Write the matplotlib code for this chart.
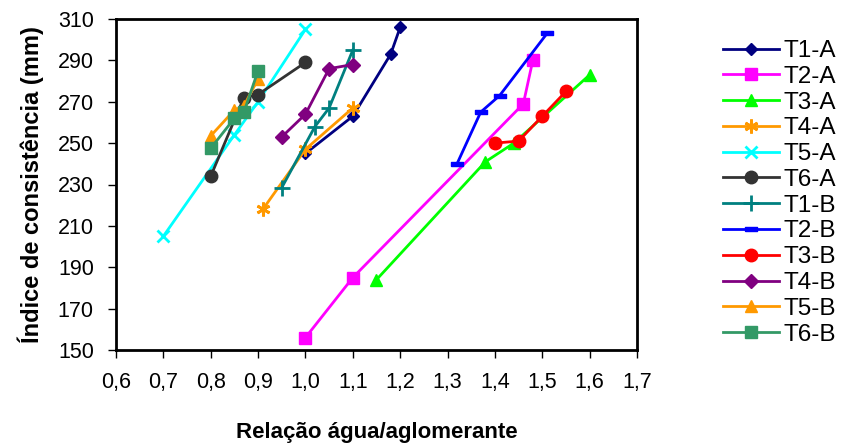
import matplotlib
matplotlib.use("Agg")
import matplotlib.pyplot as plt
from matplotlib.ticker import FuncFormatter, FixedLocator

plt.rcParams['font.family'] = ['Liberation Sans', 'DejaVu Sans']

labels = ["T1-A", "T2-A", "T3-A", "T4-A", "T5-A", "T6-A",
          "T1-B", "T2-B", "T3-B", "T4-B", "T5-B", "T6-B"]

x_T1A = [1.00, 1.10, 1.18, 1.20]
y_T1A = [245, 263, 293, 306]
x_T2A = [1.00, 1.10, 1.46, 1.48]
y_T2A = [156, 185, 269, 290]
x_T3A = [1.15, 1.38, 1.44, 1.60]
y_T3A = [184, 241, 250, 283]
x_T4A = [0.91, 1.00, 1.10]
y_T4A = [218, 247, 267]
x_T5A = [0.70, 0.85, 0.90, 1.00]
y_T5A = [205, 254, 270, 305]
x_T6A = [0.80, 0.87, 0.90, 1.00]
y_T6A = [234, 272, 273.5, 289]
x_T1B = [0.95, 1.02, 1.05, 1.10]
y_T1B = [228.5, 258, 267, 295]
x_T2B = [1.32, 1.37, 1.41, 1.51]
y_T2B = [240, 265, 273, 303]
x_T3B = [1.40, 1.45, 1.50, 1.55]
y_T3B = [250, 251, 263, 275]
x_T4B = [0.95, 1.00, 1.05, 1.10]
y_T4B = [253, 264, 286, 288]
x_T5B = [0.80, 0.85, 0.87, 0.90]
y_T5B = [253.5, 266, 268, 281]
x_T6B = [0.80, 0.85, 0.87, 0.90]
y_T6B = [247.5, 262, 265, 285]

x_ticks = [0.6, 0.7, 0.8, 0.9, 1.0, 1.1, 1.2, 1.3, 1.4, 1.5, 1.6, 1.7]
y_ticks = [150, 170, 190, 210, 230, 250, 270, 290, 310]

xs = [x_T1A, x_T2A, x_T3A, x_T4A, x_T5A, x_T6A, x_T1B, x_T2B, x_T3B, x_T4B, x_T5B, x_T6B]
ys = [y_T1A, y_T2A, y_T3A, y_T4A, y_T5A, y_T6A, y_T1B, y_T2B, y_T3B, y_T4B, y_T5B, y_T6B]

dash = [(-1, -0.35), (1, -0.35), (1, 0.35), (-1, 0.35), (-1, -0.35)]
styles = [
    dict(color="#000080", marker="D", ms=6),
    dict(color="#FF00FF", marker="s", ms=9),
    dict(color="#00FF00", marker="^", ms=9),
    dict(color="#FF9900", marker=(6, 2, 0), ms=10, mew=2),
    dict(color="#00FFFF", marker="x", ms=9, mew=2),
    dict(color="#333333", marker="o", ms=9),
    dict(color="#008080", marker="+", ms=11, mew=2),
    dict(color="#0000FF", marker=dash, ms=9),
    dict(color="#FF0000", marker="o", ms=9),
    dict(color="#800080", marker="D", ms=7),
    dict(color="#FF9900", marker="^", ms=9),
    dict(color="#339966", marker="s", ms=9),
]

fig = plt.figure(figsize=(8.41, 4.43), dpi=100)
ax = fig.add_axes([116/841, 1-350/443, (637-116)/841, (350-19)/443])

for x, y, lab, st in zip(xs, ys, labels, styles):
    ax.plot(x, y, lw=2, label=lab, **st)

ax.set_xlim(0.6, 1.7)
ax.set_ylim(150, 310)
ax.xaxis.set_major_locator(FixedLocator(x_ticks))
ax.yaxis.set_major_locator(FixedLocator(y_ticks))
ax.xaxis.set_major_formatter(FuncFormatter(lambda v, p: f"{v:.1f}".replace(".", ",")))
ax.yaxis.set_major_formatter(FuncFormatter(lambda v, p: f"{v:.0f}"))
ax.tick_params(direction="out", length=6, width=1, labelsize=15.5)
ax.tick_params(axis="x", pad=10)
ax.tick_params(axis="y", pad=10)
for s in ax.spines.values():
    s.set_linewidth(2)

ax.set_xlabel("Relação água/aglomerante", fontsize=16, fontweight="bold", labelpad=21)
ax.set_ylabel("Índice de consistência (mm)", fontsize=17, fontweight="bold", labelpad=10)

leg = ax.legend(loc="upper left", bbox_to_anchor=(723/841, 1-40/443), bbox_transform=fig.transFigure,
                frameon=False, fontsize=17.5, handlelength=2.3, labelspacing=0.155,
                handletextpad=0.17, borderaxespad=0, borderpad=0)

fig.savefig("out.png", dpi=100)
